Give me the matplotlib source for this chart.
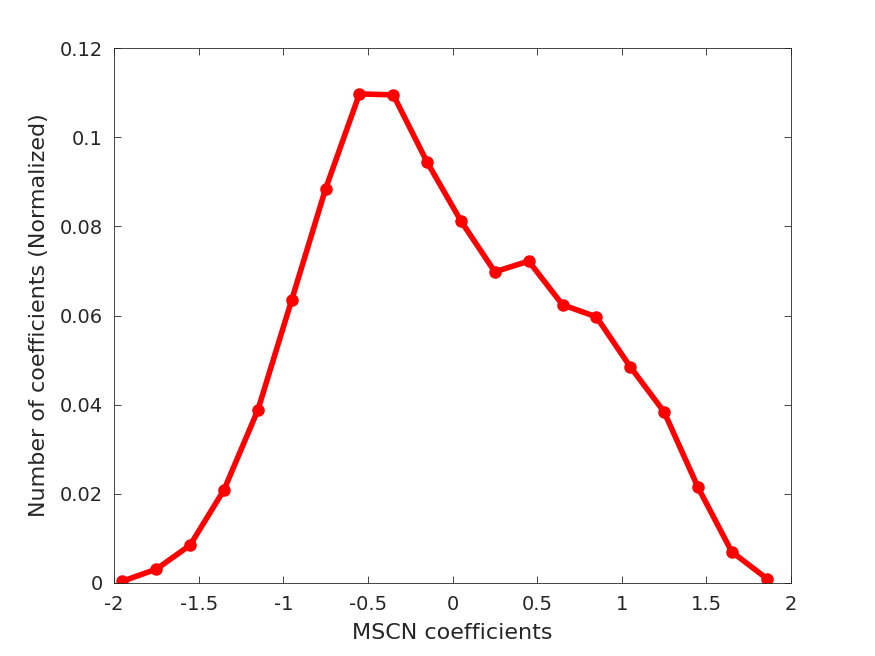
import numpy as np
import matplotlib
matplotlib.use('Agg')
import matplotlib.pyplot as plt

# histogram of MSCN coefficients (bin centres, normalized counts)
bin_centers = [-1.95, -1.75, -1.55, -1.35, -1.15, -0.95, -0.75, -0.55, -0.35, -0.15,
               0.05, 0.25, 0.45, 0.65, 0.85, 1.05, 1.25, 1.45, 1.65, 1.86]
counts = [0.0004, 0.0031, 0.0085, 0.0209, 0.0388, 0.0635, 0.0884, 0.1097, 0.1095, 0.0944,
          0.0812, 0.0698, 0.0722, 0.0624, 0.0597, 0.0485, 0.0384, 0.0215, 0.0070, 0.0009]
xticks = [-2, -1.5, -1, -0.5, 0, 0.5, 1, 1.5, 2]
xticklabels = ['-2', '-1.5', '-1', '-0.5', '0', '0.5', '1', '1.5', '2']
yticks = [0, 0.02, 0.04, 0.06, 0.08, 0.1, 0.12]
yticklabels = ['0', '0.02', '0.04', '0.06', '0.08', '0.1', '0.12']

plt.rcParams['font.family'] = ['DejaVu Sans']
grey = (0.15, 0.15, 0.15)

fig = plt.figure(figsize=(8.75, 6.56), dpi=100)
ax = fig.add_axes([0.1303, 0.1113, 0.7737, 0.8155])

ax.plot(bin_centers, counts, '-o', color='red', lw=4, ms=8, mfc='red', mec='red')

ax.set_xlim(-2, 2)
ax.set_ylim(0, 0.12)
ax.set_xticks(xticks)
ax.set_xticklabels(xticklabels)
ax.set_yticks(yticks)
ax.set_yticklabels(yticklabels)
ax.tick_params(direction='in', top=True, right=True, labelsize=14, colors=grey,
               length=5, width=0.6)
ax.tick_params(axis='x', pad=9)
ax.tick_params(axis='y', pad=8)
for s in ax.spines.values():
    s.set_color(grey)
    s.set_linewidth(0.6)

ax.set_xlabel('MSCN coefficients', fontsize=16, color=grey, labelpad=6)
ax.set_ylabel('Number of coefficients (Normalized)', fontsize=16, color=grey, labelpad=8)

fig.savefig('out.png', dpi=100)
